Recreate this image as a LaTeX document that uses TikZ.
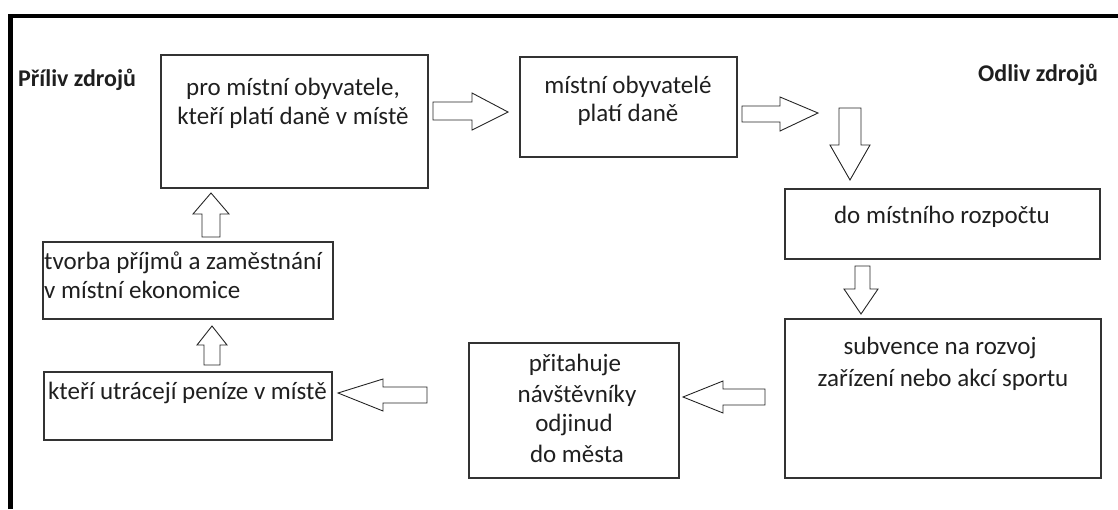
\documentclass[tikz,border=0pt]{standalone}
\usepackage{fontspec}
\setmainfont{Carlito}
\begin{document}
\begin{tikzpicture}[x=1pt,y=-1pt,
  box/.style={draw=black!80, line width=1.3pt, inner sep=0pt, outer sep=0pt, anchor=north west},
  blockarrow/.style={draw=black!85, line width=0.9pt, fill=white, line join=miter},
  txt/.style={inner sep=0pt, text=black!88, font=\fontsize{25}{30}\selectfont},
  btxt/.style={txt, font=\fontsize{24}{29}\selectfont\bfseries}]
\useasboundingbox (0,0) rectangle (1118,509);
% frame
\draw[line width=4.5pt, line join=miter] (10.5,509) -- (10.5,15.75) -- (1118,15.75);
% boxes
\node[box, minimum width=267pt, minimum height=133pt] (A) at (161,55) {};
\node[box, minimum width=217pt, minimum height=100pt] (B) at (520,57) {};
\node[box, minimum width=315pt, minimum height=70pt] (C) at (785,189) {};
\node[box, minimum width=316pt, minimum height=159pt] (D) at (785,319) {};
\node[box, minimum width=210pt, minimum height=135pt] (E) at (469,343) {};
\node[box, minimum width=288pt, minimum height=68pt] (F) at (44,372) {};
\node[box, minimum width=290pt, minimum height=77pt] (G) at (43,242) {};
% labels
\node[btxt, anchor=base west] (lin) at (18,86) {Příliv zdrojů};
\node[btxt, anchor=base west] (lout) at (978,81) {Odliv zdrojů};
% texts
\node[txt, anchor=base] (a1) at (293,95) {pro místní obyvatele,};
\node[txt, anchor=base] (a2) at (293,124) {kteří platí daně v místě};
\node[txt, anchor=base] (b1) at (628,93) {místní obyvatelé};
\node[txt, anchor=base] (b2) at (628,121) {platí daně};
\node[txt, anchor=base] (c1) at (942,223) {do místního rozpočtu};
\node[txt, anchor=base] (d1) at (940,354) {subvence na rozvoj};
\node[txt, anchor=base] (d2) at (943,386) {zařízení nebo akcí sportu};
\node[txt, anchor=base] (e1) at (575,371) {přitahuje};
\node[txt, anchor=base] (e2) at (577,402) {návštěvníky};
\node[txt, anchor=base] (e3) at (574,431) {odjinud};
\node[txt, anchor=base] (e4) at (577,462) {do města};
\node[txt, anchor=base west] (f1) at (48,399) {kteří utrácejí peníze v místě};
\node[txt, anchor=base west] (g1) at (44,269) {tvorba příjmů a zaměstnání};
\node[txt, anchor=base west] (g2) at (44,298) {v místní ekonomice};
% block arrows
\draw[blockarrow] (433,102) -- (472,102) -- (472,93) -- (508,112) -- (472,130) -- (472,120) -- (433,120) -- cycle;
\draw[blockarrow] (742,106) -- (780,106) -- (780,97) -- (818,113) -- (780,131) -- (780,122) -- (742,122) -- cycle;
\draw[blockarrow] (839,108) -- (861,108) -- (861,145) -- (870,145) -- (850,180) -- (830,145) -- (839,145) -- cycle;
\draw[blockarrow] (855,266) -- (870,266) -- (870,289) -- (878,289) -- (861,314) -- (844,289) -- (855,289) -- cycle;
\draw[blockarrow] (765,389) -- (723,389) -- (723,381) -- (683,397) -- (723,413) -- (723,405) -- (765,405) -- cycle;
\draw[blockarrow] (427,387) -- (383,387) -- (383,379) -- (338,393) -- (383,411) -- (383,403) -- (427,403) -- cycle;
\draw[blockarrow] (204,365) -- (204,345) -- (197,345) -- (212,326) -- (227,345) -- (220,345) -- (220,365) -- cycle;
\draw[blockarrow] (202,237) -- (202,214) -- (193,214) -- (211,193) -- (229,214) -- (220,214) -- (220,237) -- cycle;
\end{tikzpicture}
\end{document}
